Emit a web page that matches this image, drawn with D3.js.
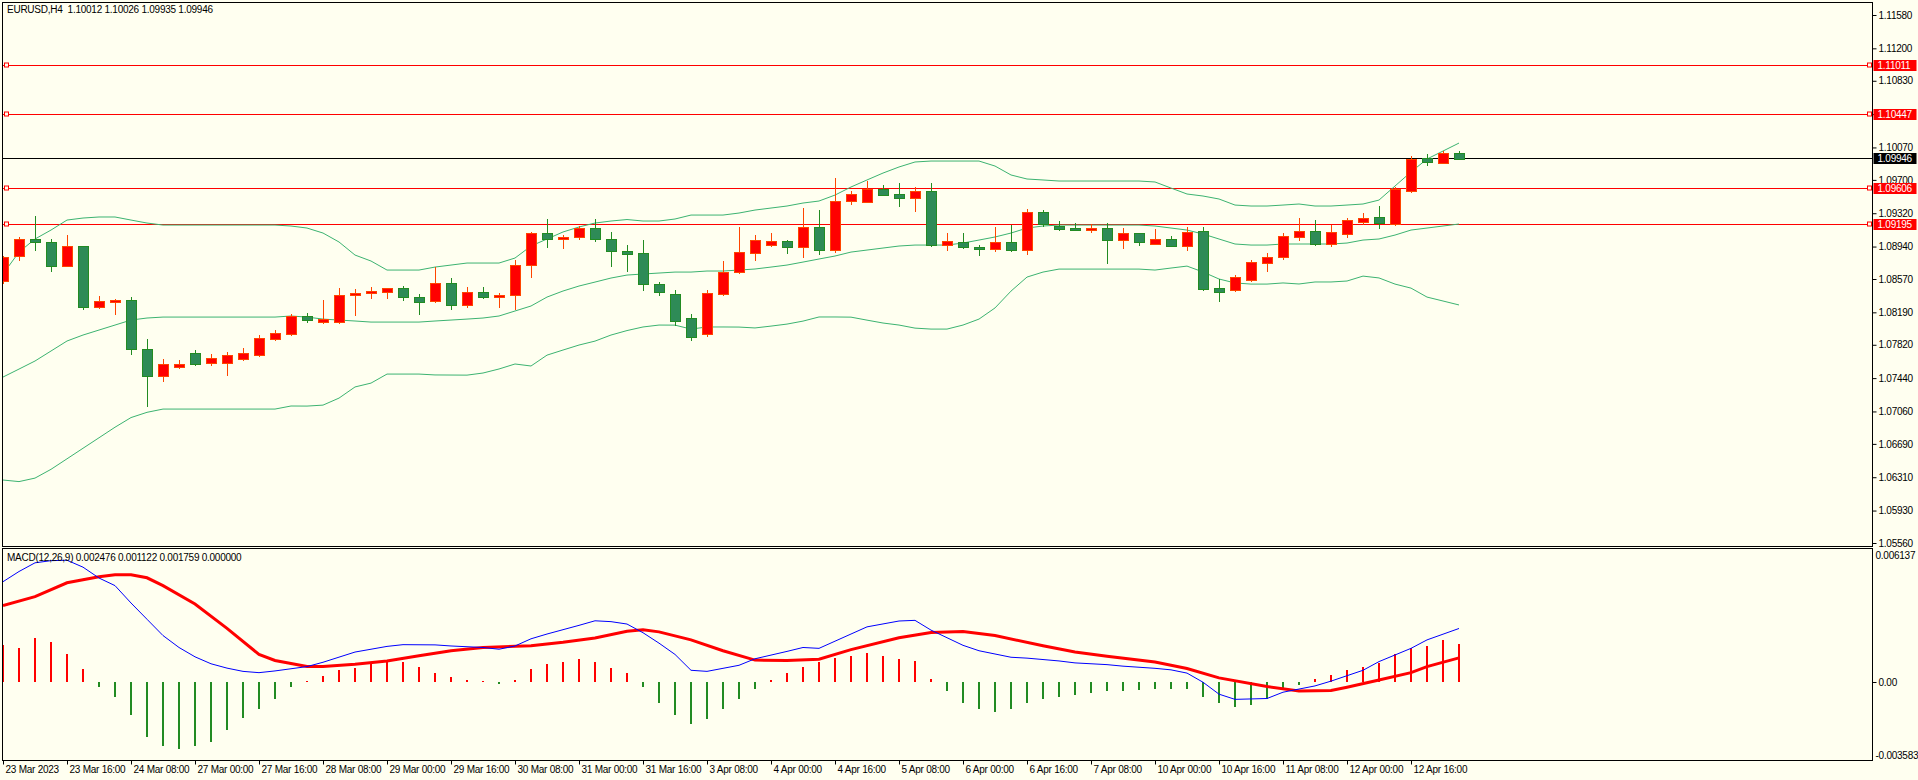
<!DOCTYPE html>
<html>
<head>
<meta charset="utf-8">
<script src="https://d3js.org/d3.v7.min.js"></script>
<style>
  body { margin: 0; background: #fffff0; }
  text { font-family: "Liberation Sans", Arial, sans-serif; font-size: 10px; letter-spacing: -0.25px; white-space: pre; }
</style>
</head>
<body>
<svg id="chart" width="1918" height="780"></svg>
<script>
// ---- data ----
const title = "EURUSD,H4  1.10012 1.10026 1.09935 1.09946";
const macdTitle = "MACD(12,26,9) 0.002476 0.001122 0.001759 0.000000";

const opens = [1.08539,1.08824,1.09022,1.08992,1.08721,1.08946,1.08254,1.08311,1.08330,1.07772,
  1.07464,1.07566,1.07726,1.07612,1.07612,1.07657,1.07703,1.07886,1.07942,1.08148,
  1.08080,1.08080,1.08379,1.08407,1.08418,1.08467,1.08364,1.08311,1.08521,1.08265,
  1.08418,1.08361,1.08383,1.08726,1.09094,1.09029,1.09045,1.09148,1.09022,1.08889,
  1.08863,1.08513,1.08399,1.08125,1.07942,1.08399,1.08650,1.08870,1.08954,1.09003,
  1.08931,1.09159,1.08897,1.09456,1.09444,1.09596,1.09539,1.09497,1.09573,1.08954,
  1.08992,1.08935,1.08915,1.08992,1.08904,1.09334,1.09177,1.09155,1.09132,1.09151,
  1.09018,1.09094,1.08972,1.09026,1.08949,1.09117,1.08470,1.08440,1.08558,1.08756,
  1.08817,1.09052,1.09117,1.08970,1.09080,1.09230,1.09280,1.09200,1.09580,1.09950,
  1.09900,1.10012];
const closes = [1.08817,1.09022,1.08984,1.08721,1.08946,1.08254,1.08319,1.08330,1.07772,1.07464,
  1.07600,1.07600,1.07600,1.07669,1.07703,1.07726,1.07897,1.07954,1.08148,1.08102,
  1.08114,1.08387,1.08407,1.08430,1.08467,1.08361,1.08311,1.08521,1.08265,1.08418,
  1.08361,1.08387,1.08726,1.09094,1.09029,1.09049,1.09148,1.09022,1.08886,1.08858,
  1.08513,1.08420,1.08091,1.07908,1.08410,1.08650,1.08878,1.09014,1.09000,1.08931,
  1.09159,1.08897,1.09456,1.09536,1.09596,1.09531,1.09497,1.09573,1.08954,1.09000,
  1.08931,1.08915,1.08992,1.08904,1.09334,1.09200,1.09143,1.09132,1.09155,1.09018,
  1.09094,1.08995,1.09026,1.08949,1.09106,1.08460,1.08420,1.08593,1.08764,1.08821,
  1.09060,1.09117,1.08970,1.09110,1.09240,1.09270,1.09210,1.09600,1.09940,1.09910,
  1.10010,1.09946];
const highs = [1.08830,1.09045,1.09288,1.09022,1.09071,1.08950,1.08376,1.08342,1.08365,1.07886,
  1.07658,1.07646,1.07760,1.07714,1.07737,1.07783,1.07931,1.07990,1.08170,1.08180,
  1.08330,1.08467,1.08456,1.08478,1.08470,1.08490,1.08399,1.08703,1.08581,1.08478,
  1.08478,1.08410,1.08790,1.09109,1.09254,1.09069,1.09171,1.09254,1.09106,1.08957,
  1.09014,1.08540,1.08444,1.08170,1.08444,1.08775,1.09163,1.09071,1.09094,1.09014,
  1.09379,1.09357,1.09721,1.09573,1.09687,1.09642,1.09664,1.09619,1.09664,1.09094,
  1.09094,1.08957,1.09163,1.09189,1.09371,1.09357,1.09231,1.09211,1.09197,1.09211,
  1.09151,1.09094,1.09140,1.09060,1.09163,1.09163,1.08570,1.08620,1.08790,1.08866,
  1.09094,1.09265,1.09240,1.09180,1.09270,1.09320,1.09400,1.09620,1.09970,1.10000,
  1.10030,1.10026];
const lows = [1.08513,1.08778,1.08892,1.08653,1.08710,1.08220,1.08231,1.08163,1.07703,1.07110,
  1.07395,1.07543,1.07577,1.07577,1.07464,1.07634,1.07680,1.07863,1.07920,1.08068,
  1.08057,1.08057,1.08151,1.08345,1.08345,1.08322,1.08163,1.08300,1.08220,1.08243,
  1.08338,1.08243,1.08216,1.08578,1.08927,1.08908,1.09011,1.08995,1.08710,1.08650,
  1.08433,1.08380,1.08034,1.07863,1.07908,1.08376,1.08627,1.08778,1.08935,1.08855,
  1.08813,1.08847,1.08870,1.09417,1.09444,1.09516,1.09391,1.09334,1.08940,1.08892,
  1.08915,1.08835,1.08881,1.08881,1.08847,1.09159,1.09120,1.09130,1.09098,1.08741,
  1.08915,1.08949,1.08961,1.08938,1.08892,1.08430,1.08310,1.08420,1.08540,1.08653,
  1.08790,1.09007,1.08950,1.08930,1.09040,1.09180,1.09140,1.09170,1.09550,1.09860,
  1.09880,1.09935];

// Bollinger bands, one value per bar
const bbUpper = [1.08627,1.08877,1.09026,1.09128,1.09242,1.09265,1.09277,1.09277,1.09242,1.09208,
  1.09185,1.09185,1.09185,1.09185,1.09185,1.09185,1.09185,1.09185,1.09174,1.09151,
  1.09094,1.08992,1.08843,1.08775,1.08672,1.08672,1.08672,1.08706,1.08729,1.08752,
  1.08752,1.08752,1.08809,1.08946,1.09026,1.09106,1.09163,1.09208,1.09231,1.09248,
  1.09231,1.09231,1.09254,1.09299,1.09299,1.09299,1.09322,1.09356,1.09379,1.09402,
  1.09436,1.09459,1.09527,1.09619,1.09699,1.09778,1.09847,1.09904,1.09915,1.09915,
  1.09915,1.09915,1.09858,1.09756,1.09710,1.09699,1.09687,1.09687,1.09687,1.09687,
  1.09687,1.09687,1.09676,1.09607,1.09539,1.09516,1.09482,1.09413,1.09402,1.09402,
  1.09413,1.09425,1.09402,1.09402,1.09413,1.09425,1.09470,1.09630,1.09790,1.09938,
  1.10029,1.10120];
const bbMiddle = [1.07452,1.07543,1.07635,1.07749,1.07863,1.07931,1.07988,1.08045,1.08102,1.08125,
  1.08136,1.08136,1.08136,1.08136,1.08136,1.08136,1.08136,1.08136,1.08148,1.08136,
  1.08113,1.08102,1.08091,1.08079,1.08079,1.08079,1.08079,1.08091,1.08102,1.08113,
  1.08125,1.08148,1.08205,1.08262,1.08364,1.08433,1.08490,1.08535,1.08581,1.08615,
  1.08627,1.08638,1.08649,1.08649,1.08661,1.08661,1.08672,1.08684,1.08706,1.08729,
  1.08763,1.08798,1.08832,1.08877,1.08900,1.08923,1.08946,1.08957,1.08957,1.08957,
  1.08980,1.09014,1.09049,1.09094,1.09151,1.09174,1.09185,1.09185,1.09185,1.09185,
  1.09185,1.09185,1.09174,1.09151,1.09128,1.09083,1.09026,1.08969,1.08957,1.08957,
  1.08969,1.08969,1.08969,1.08969,1.08980,1.09014,1.09026,1.09071,1.09128,1.09151,
  1.09174,1.09197];
const bbLower = [1.06278,1.06260,1.06300,1.06400,1.06520,1.06640,1.06760,1.06880,1.06990,1.07050,
  1.07087,1.07087,1.07087,1.07087,1.07087,1.07087,1.07087,1.07087,1.07122,1.07121,
  1.07132,1.07212,1.07339,1.07383,1.07486,1.07486,1.07486,1.07476,1.07475,1.07474,
  1.07498,1.07544,1.07601,1.07578,1.07702,1.07760,1.07817,1.07862,1.07931,1.07982,
  1.08023,1.08045,1.08044,1.07999,1.08023,1.08023,1.08022,1.08012,1.08033,1.08056,
  1.08090,1.08137,1.08137,1.08135,1.08101,1.08068,1.08045,1.08010,1.07999,1.07999,
  1.08045,1.08113,1.08240,1.08432,1.08592,1.08649,1.08683,1.08683,1.08683,1.08683,
  1.08683,1.08683,1.08672,1.08695,1.08717,1.08650,1.08570,1.08525,1.08512,1.08512,
  1.08525,1.08513,1.08536,1.08536,1.08547,1.08603,1.08582,1.08512,1.08466,1.08364,
  1.08319,1.08274];

// MACD histogram, one value per bar
const macdHist = [0.00173,0.00156,0.00206,0.00184,0.00128,0.00061,-0.00023,-0.00068,-0.00152,-0.00253,
  -0.00292,-0.00308,-0.00292,-0.00275,-0.00219,-0.00163,-0.00124,-0.00079,-0.00023,0.00005,
  0.00027,0.00055,0.00066,0.00089,0.00100,0.00094,0.00072,0.00044,0.00022,0.00011,
  0.00005,-0.00006,0.00011,0.00061,0.00083,0.00094,0.00106,0.00094,0.00066,0.00044,
  -0.00023,-0.00096,-0.00152,-0.00191,-0.00168,-0.00124,-0.00079,-0.00029,0.00011,0.00044,
  0.00072,0.00094,0.00111,0.00122,0.00133,0.00122,0.00106,0.00100,0.00016,-0.00040,
  -0.00096,-0.00124,-0.00135,-0.00124,-0.00096,-0.00079,-0.00068,-0.00057,-0.00051,-0.00040,
  -0.00040,-0.00034,-0.00029,-0.00029,-0.00029,-0.00068,-0.00096,-0.00112,-0.00107,-0.00079,
  -0.00029,-0.00012,0.00016,0.00033,0.00055,0.00072,0.00089,0.00128,0.00156,0.00167,
  0.00195,0.00176];

// MACD main (blue) and signal (red), read at these bars
const mainBars = [0,1,2,3,4,5,6,7,8,9,10,11,12,13,14,15,16,17,19,20,22,24,25,27,28,30,31,32,33,34,36,37,38,39,40,41,42,43,44,46,47,49,50,51,53,54,56,57,58,60,61,63,64,66,67,69,70,72,73,74,75,76,77,79,80,82,83,85,86,88,89,91];
const mainVals = [0.00463,0.00510,0.00550,0.00560,0.00562,0.00530,0.00480,0.00445,0.00365,0.00290,0.00215,0.00160,0.00117,0.00085,0.00065,0.00050,0.00044,0.00052,0.00072,0.00092,0.00139,0.00165,0.00173,0.00172,0.00167,0.00160,0.00152,0.00167,0.00200,0.00222,0.00262,0.00283,0.00279,0.00268,0.00228,0.00180,0.00128,0.00055,0.00050,0.00078,0.00108,0.00142,0.00160,0.00156,0.00222,0.00255,0.00282,0.00285,0.00240,0.00170,0.00145,0.00115,0.00111,0.00098,0.00089,0.00081,0.00074,0.00064,0.00057,0.00042,0.00000,-0.00055,-0.00079,-0.00075,-0.00046,-0.00017,0.00005,0.00055,0.00095,0.00156,0.00195,0.002476];
const signalBars = [0,2,4,6,7,8,9,10,12,14,16,17,19,20,22,24,26,28,30,33,35,37,39,40,41,43,45,47,49,51,53,56,58,60,62,65,67,69,72,74,76,79,81,83,84,86,88,89,91];
const signalVals = [0.00353,0.00394,0.00458,0.00486,0.00495,0.00495,0.00481,0.00445,0.00360,0.00248,0.00128,0.00100,0.00072,0.00072,0.00083,0.00098,0.00122,0.00145,0.00160,0.00168,0.00184,0.00204,0.00235,0.00242,0.00232,0.00195,0.00145,0.00102,0.00100,0.00106,0.00150,0.00205,0.00229,0.00234,0.00215,0.00168,0.00139,0.00120,0.00093,0.00063,0.00020,-0.00020,-0.00040,-0.00038,-0.00023,0.00010,0.00044,0.00072,0.001122];

const levels = [1.11011, 1.10447, 1.09606, 1.09195];
const bid = 1.09946;
const priceTicks = [1.11580,1.11200,1.10830,1.10450,1.10070,1.09700,1.09320,1.08940,1.08570,1.08190,1.07820,1.07440,1.07060,1.06690,1.06310,1.05930,1.05560];
const timeLabels = ["23 Mar 2023","23 Mar 16:00","24 Mar 08:00","27 Mar 00:00","27 Mar 16:00","28 Mar 08:00",
  "29 Mar 00:00","29 Mar 16:00","30 Mar 08:00","31 Mar 00:00","31 Mar 16:00","3 Apr 08:00","4 Apr 00:00",
  "4 Apr 16:00","5 Apr 08:00","6 Apr 00:00","6 Apr 16:00","7 Apr 08:00","10 Apr 00:00","10 Apr 16:00",
  "11 Apr 08:00","12 Apr 00:00","12 Apr 16:00"];
const macdMax = 0.006137, macdMin = -0.003583;

// ---- layout ----
const L = 2.5, R = 1872.5, mainT = 2.5, mainB = 546.5, macdT = 548.5, macdB = 760.5;
const svg = d3.select('#chart');
svg.append('rect').attr('width', 1918).attr('height', 780).attr('fill', '#fffff0');

const x = d3.scaleLinear().domain([0, 91]).range([3, 3 + 16 * 91]);
const y = d3.scaleLinear().domain([1.05560, 1.11580]).range([543, 15]);
const ym = d3.scaleLinear().domain([macdMin, macdMax]).range([760, 549]);

const defs = svg.append('defs');
defs.append('clipPath').attr('id', 'clipMain').append('rect')
  .attr('x', L + 0.5).attr('y', mainT + 0.5).attr('width', R - L - 1).attr('height', mainB - mainT - 1);
defs.append('clipPath').attr('id', 'clipMacd').append('rect')
  .attr('x', L + 0.5).attr('y', macdT + 0.5).attr('width', R - L - 1).attr('height', macdB - macdT - 1);

const main = svg.append('g').attr('clip-path', 'url(#clipMain)');
const macd = svg.append('g').attr('clip-path', 'url(#clipMacd)');

// level lines
levels.forEach(v => {
  const yy = Math.round(y(v)) + 0.5;
  main.append('line').attr('x1', L).attr('x2', R).attr('y1', yy).attr('y2', yy)
    .attr('stroke', '#ff0000').attr('stroke-width', 1);
  [4, 1867].forEach(xx => main.append('rect').attr('x', xx + 0.5).attr('y', yy - 2.5)
    .attr('width', 4).attr('height', 4).attr('fill', '#fffff0').attr('stroke', '#ff0000'));
});
const yb = Math.round(y(bid)) + 0.5;
main.append('line').attr('x1', L).attr('x2', R).attr('y1', yb).attr('y2', yb).attr('stroke', '#000');

// Bollinger bands
const bandLine = d3.line().x((d, i) => x(i)).y(d => y(d));
[bbUpper, bbMiddle, bbLower].forEach(arr => {
  main.append('path').datum(arr).attr('d', bandLine)
    .attr('fill', 'none').attr('stroke', '#3cb371').attr('stroke-width', 1);
});

// candles (red = up, green = down)
const idx = d3.range(opens.length);
const upCol = '#ff0000', upEdge = '#ff4500', dnCol = '#2e8b57', dnEdge = '#228b22';
const cg = main.append('g').attr('shape-rendering', 'crispEdges');
cg.selectAll('line.wick').data(idx).join('line')
  .attr('x1', i => Math.round(x(i)) + 0.5).attr('x2', i => Math.round(x(i)) + 0.5)
  .attr('y1', i => y(highs[i])).attr('y2', i => y(lows[i]))
  .attr('stroke', i => closes[i] >= opens[i] ? upEdge : dnEdge);
cg.selectAll('rect.body').data(idx).join('rect')
  .attr('x', i => Math.round(x(i)) - 4.5)
  .attr('y', i => Math.round(y(Math.max(opens[i], closes[i]))) + 0.5)
  .attr('width', 10)
  .attr('height', i => Math.max(1, Math.round(Math.abs(y(opens[i]) - y(closes[i])))))
  .attr('fill', i => closes[i] >= opens[i] ? upCol : dnCol)
  .attr('stroke', i => closes[i] >= opens[i] ? upEdge : dnEdge);

// MACD histogram
macd.append('g').attr('shape-rendering', 'crispEdges')
  .selectAll('rect').data(idx).join('rect')
  .attr('x', i => Math.round(x(i)) - 1)
  .attr('width', 2)
  .attr('y', i => Math.min(ym(0), ym(macdHist[i])))
  .attr('height', i => Math.abs(ym(macdHist[i]) - ym(0)))
  .attr('fill', i => macdHist[i] >= 0 ? '#ff0000' : '#228b22');

macd.append('path').datum(d3.zip(signalBars, signalVals))
  .attr('d', d3.line().x(d => x(d[0])).y(d => ym(d[1])))
  .attr('fill', 'none').attr('stroke', '#ff0000').attr('stroke-width', 3);
macd.append('path').datum(d3.zip(mainBars, mainVals))
  .attr('d', d3.line().x(d => x(d[0])).y(d => ym(d[1])))
  .attr('fill', 'none').attr('stroke', '#0000ff').attr('stroke-width', 1);

// panel borders
[[mainT, mainB], [macdT, macdB]].forEach(([t, b]) => {
  svg.append('rect').attr('x', L).attr('y', t).attr('width', R - L).attr('height', b - t)
    .attr('fill', 'none').attr('stroke', '#000').attr('stroke-width', 1);
});

// price axis
const pAxis = svg.append('g').attr('transform', `translate(${R},0)`)
  .call(d3.axisRight(y).tickValues(priceTicks).tickSize(4).tickPadding(2).tickFormat(d3.format('.5f')));
pAxis.select('.domain').remove();
pAxis.selectAll('text').attr('fill', '#000').style('font-family', '"Liberation Sans", Arial, sans-serif').style('font-size', '10px');

// price tags
function tag(v, col) {
  const yy = Math.round(y(v));
  svg.append('rect').attr('x', R + 1).attr('y', yy - 5).attr('width', 43).attr('height', 11).attr('fill', col);
  svg.append('text').attr('x', R + 5).attr('y', yy + 4).attr('fill', '#fff').text(d3.format('.5f')(v));
}
levels.forEach(v => tag(v, '#ff0000'));
tag(bid, '#000000');

// MACD axis
svg.append('text').attr('x', R + 3).attr('y', ym(macdMax) + 10).attr('fill', '#000').text(macdMax.toFixed(6));
svg.append('line').attr('x1', R).attr('x2', R + 4).attr('y1', Math.round(ym(0)) + 0.5).attr('y2', Math.round(ym(0)) + 0.5).attr('stroke', '#000');
svg.append('text').attr('x', R + 6).attr('y', ym(0) + 4).attr('fill', '#000').text('0.00');
svg.append('text').attr('x', R + 3).attr('y', ym(macdMin) - 1).attr('fill', '#000').text(macdMin.toFixed(6));

// time axis
const tAxis = svg.append('g').attr('transform', `translate(0,${macdB})`)
  .call(d3.axisBottom(x).tickValues(timeLabels.map((d, i) => i * 4)).tickSize(4).tickPadding(1)
    .tickFormat((d, i) => timeLabels[i]));
tAxis.select('.domain').remove();
tAxis.selectAll('text').attr('text-anchor', 'start').attr('dx', 2).attr('fill', '#000')
  .style('font-family', '"Liberation Sans", Arial, sans-serif').style('font-size', '10px');

// titles
svg.append('text').attr('x', 7).attr('y', 13).attr('fill', '#000').text(title);
svg.append('text').attr('x', 7).attr('y', 561).attr('fill', '#000').text(macdTitle);
</script>
</body>
</html>
